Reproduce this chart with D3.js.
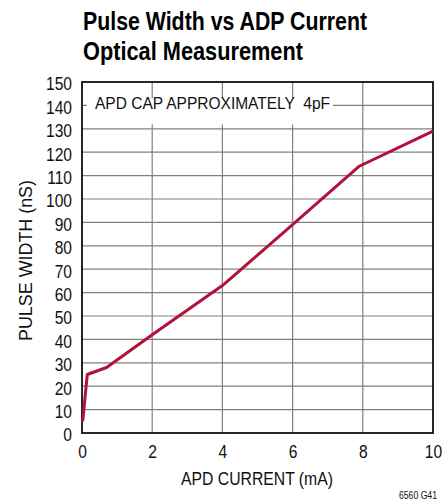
<!DOCTYPE html>
<html><head><meta charset="utf-8">
<script src="https://cdn.jsdelivr.net/npm/d3@7"></script>
<style>body{margin:0;background:#fff}svg{display:block}</style>
</head><body>
<script>
const xCurrent = [0.02, 0.15, 0.7, 2, 4, 6, 7.9, 10];
const yWidth   = [5, 25, 28, 42, 63, 89, 114, 129];
const xTicks = [0, 2, 4, 6, 8, 10];
const yTicks = [0,10,20,30,40,50,60,70,80,90,100,110,120,130,140,150];
const titleLines = ["Pulse Width vs ADP Current", "Optical Measurement"];
const note = "APD CAP APPROXIMATELY  4pF";

const W = 447, H = 502;
const m = {l:82, r:14, t:82, b:69};
const svg = d3.select("body").append("svg").attr("width", W).attr("height", H);
const font = "'Liberation Sans',Arial,sans-serif";
const x = d3.scaleLinear().domain([0,10]).range([m.l, W-m.r]);
const y = d3.scaleLinear().domain([0,150]).range([H-m.b, m.t]);

function condense(sel, f) {
  sel.each(function(){
    const w = this.getComputedTextLength();
    d3.select(this).attr("textLength", w*f).attr("lengthAdjust","spacingAndGlyphs");
  });
}

// title
svg.selectAll("text.title").data(titleLines).join("text")
  .attr("class","title")
  .attr("x", 83).attr("y", (d,i)=>30+i*30)
  .attr("font-family", font).attr("font-weight","bold").attr("font-size", 26)
  .attr("fill","#000").attr("textLength",(d,i)=>i===0?284:220).attr("lengthAdjust","spacingAndGlyphs")
  .text(d=>d);

// grid
const g = svg.append("g");
yTicks.filter(v=>v>0 && v<150).forEach(v=>{
  g.append("line").attr("x1",x(0)).attr("x2",x(10)).attr("y1",y(v)).attr("y2",y(v));
});
xTicks.filter(v=>v>0 && v<10).forEach(v=>{
  g.append("line").attr("x1",x(v)).attr("x2",x(v)).attr("y1",y(0)).attr("y2",y(150));
});
g.selectAll("line").attr("stroke","#808080").attr("stroke-width",1.2);

// note with white backing
svg.append("rect").attr("x", x(0)+5).attr("y", y(140)-7).attr("width", 333-x(0)-5).attr("height", 26)
  .attr("fill","#fff");
svg.append("text").attr("x", 95).attr("y", 109).style("white-space","pre")
  .attr("font-family", font).attr("font-size", 16.5).attr("fill","#111")
  .attr("textLength", 235).attr("lengthAdjust","spacingAndGlyphs").text(note);

// frame
svg.append("rect").attr("x",x(0)).attr("y",y(150)).attr("width",x(10)-x(0)).attr("height",y(0)-y(150))
  .attr("fill","none").attr("stroke","#111").attr("stroke-width",1.8);

// axes labels
const yAxis = d3.axisLeft(y).tickValues(yTicks).tickSize(0).tickPadding(10);
const xAxis = d3.axisBottom(x).tickValues(xTicks).tickSize(0).tickPadding(12);
const ya = svg.append("g").attr("transform",`translate(${x(0)},0)`).call(yAxis);
const xa = svg.append("g").attr("transform",`translate(0,${y(0)})`).call(xAxis);
[ya,xa].forEach(a=>{
  a.select(".domain").remove();
  a.selectAll("text").attr("font-family",font).attr("font-size",19).attr("fill","#111");
  condense(a.selectAll("text"), 0.82);
});
ya.selectAll("text").attr("dy","0.42em");

// axis titles
svg.append("text").attr("x",(181+333)/2).attr("y",485).attr("text-anchor","middle")
  .attr("font-family",font).attr("font-size",17.5).attr("fill","#111")
  .attr("textLength",152).attr("lengthAdjust","spacingAndGlyphs").text("APD CURRENT (mA)");
svg.append("text").attr("transform",`translate(32,${(180+341)/2}) rotate(-90)`).attr("text-anchor","middle")
  .attr("font-family",font).attr("font-size",17.5).attr("fill","#111")
  .attr("textLength",161).attr("lengthAdjust","spacingAndGlyphs").text("PULSE WIDTH (nS)");

// curve
const pts = xCurrent.map((v,i)=>[v, yWidth[i]]);
svg.append("path").datum(pts)
  .attr("d", d3.line().x(d=>x(d[0])).y(d=>y(d[1])))
  .attr("fill","none").attr("stroke","#b0123b").attr("stroke-width",3).attr("stroke-linejoin","round");

svg.append("text").attr("x",437).attr("y",499).attr("text-anchor","end")
  .attr("font-family",font).attr("font-size",10).attr("fill","#111")
  .attr("textLength",38).attr("lengthAdjust","spacingAndGlyphs").text("6560 G41");
</script>
</body></html>
